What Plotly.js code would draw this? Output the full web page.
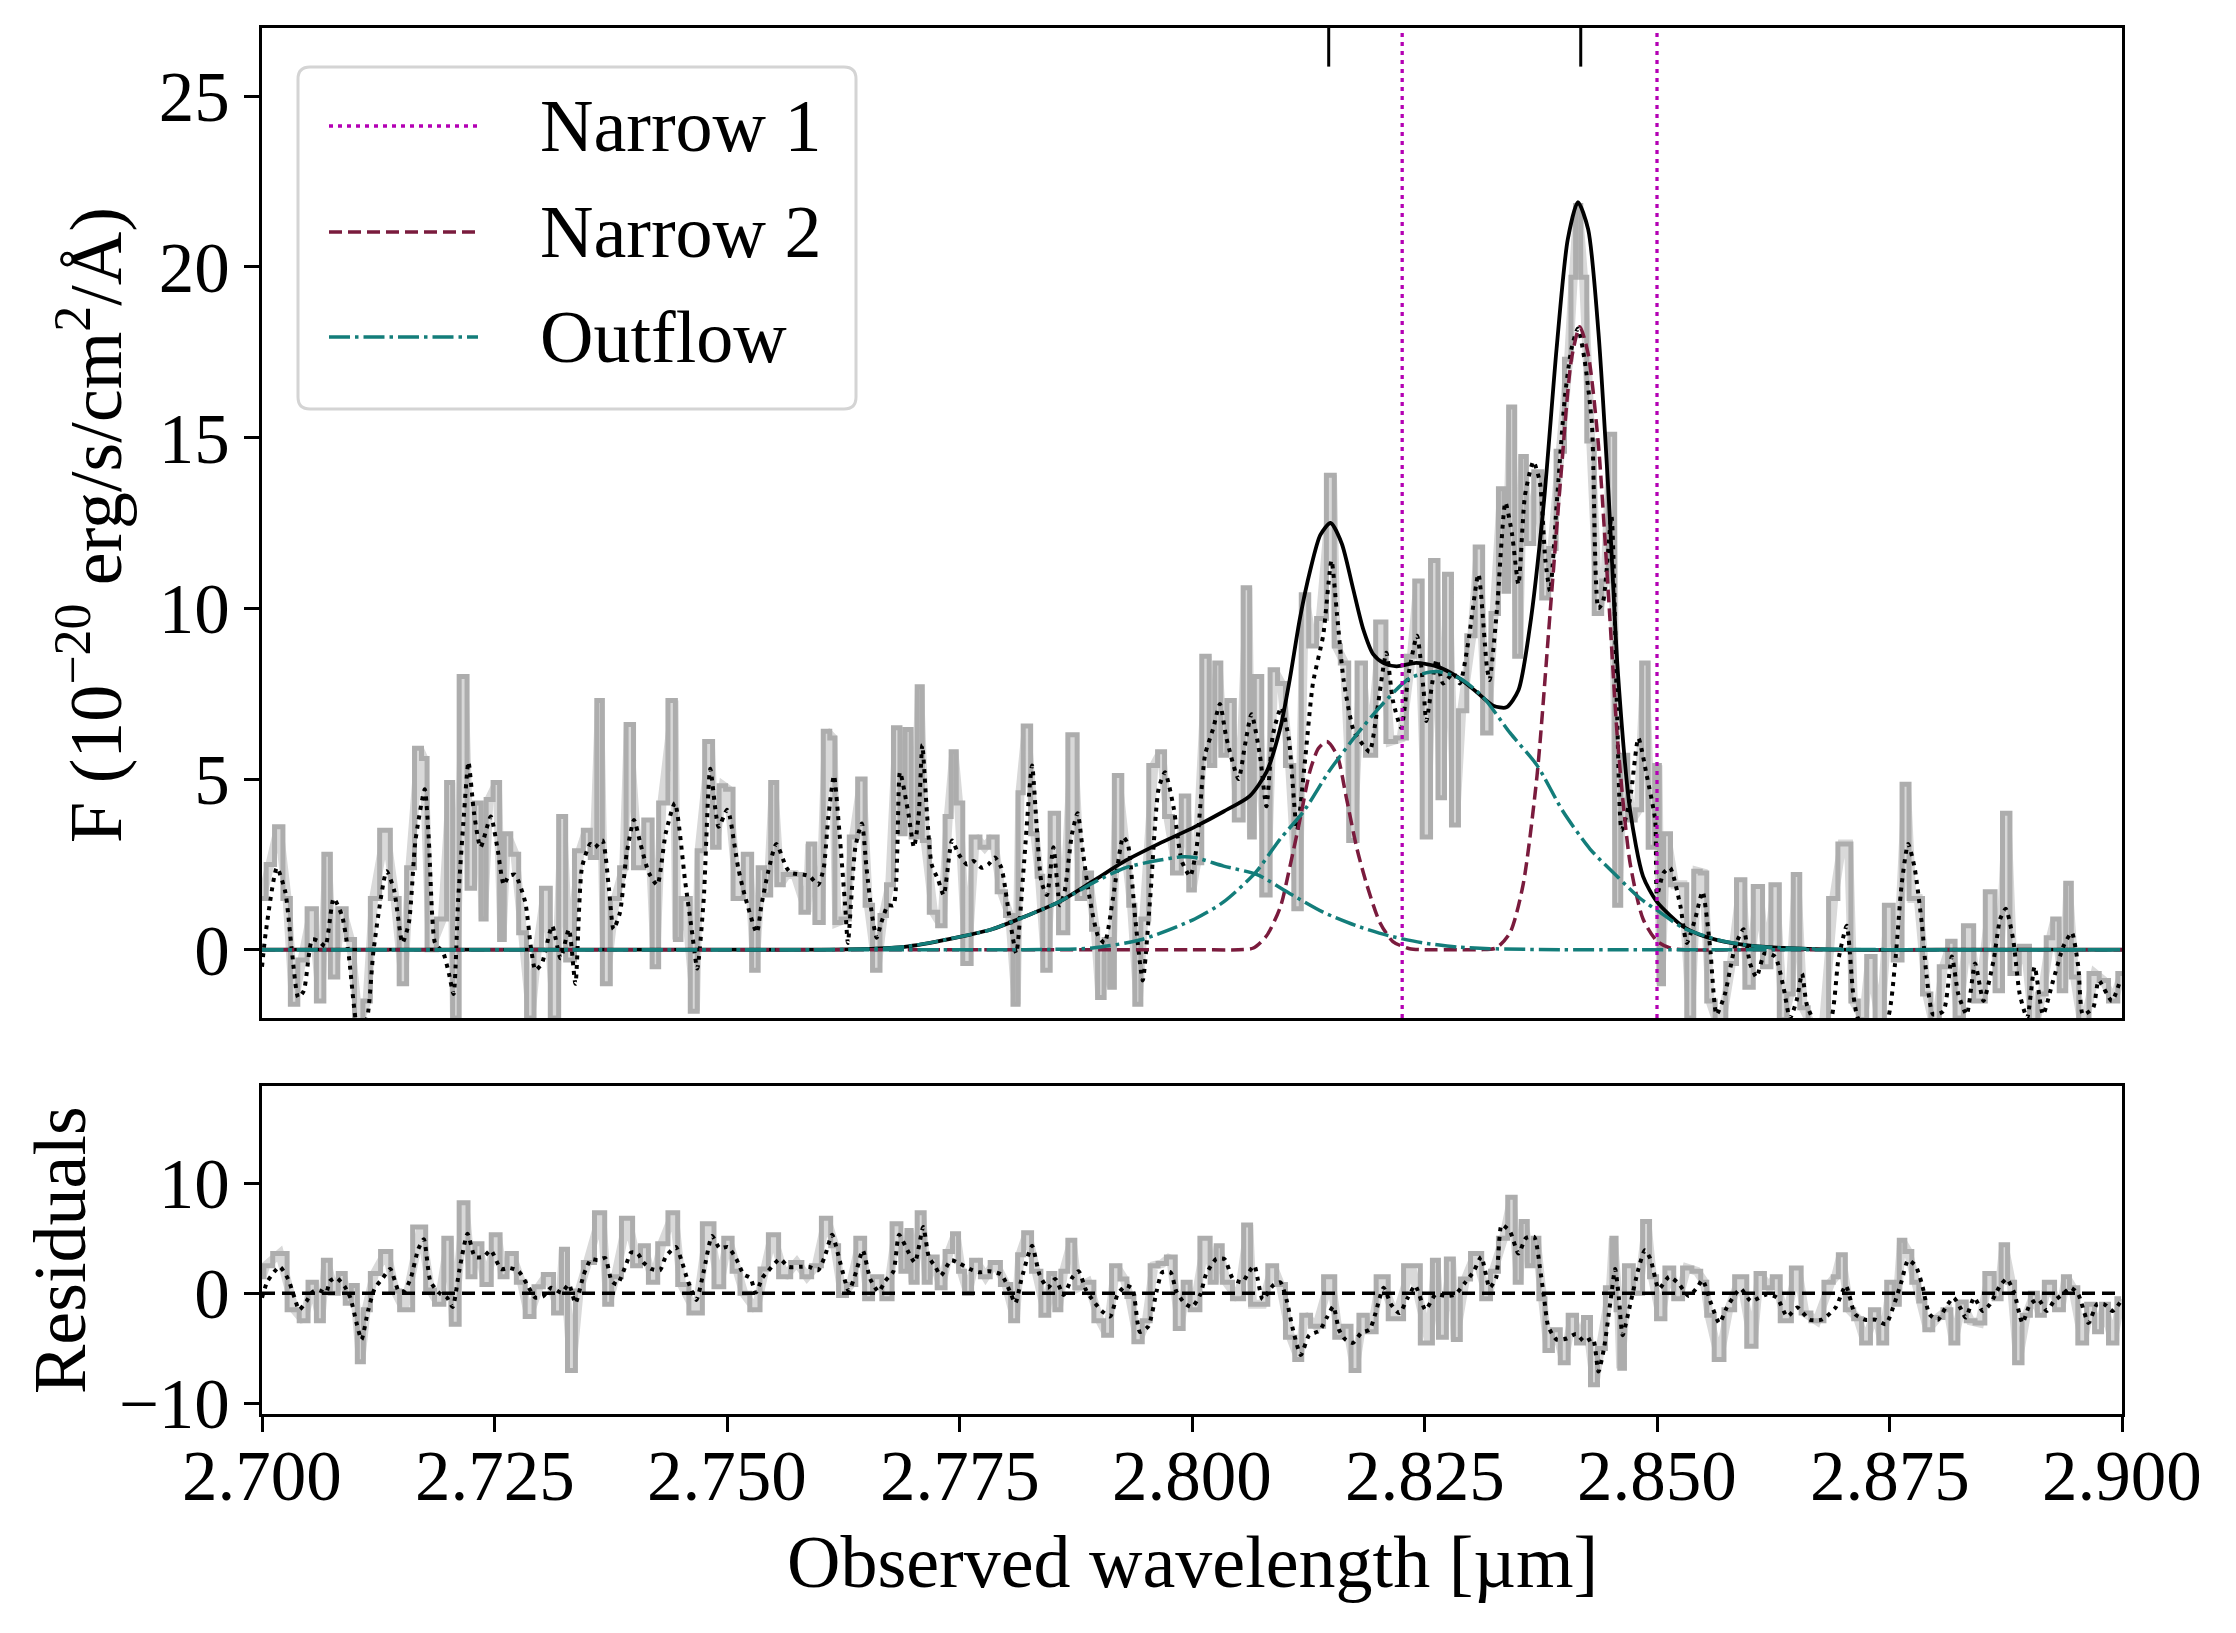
<!DOCTYPE html>
<html>
<head>
<meta charset="utf-8">
<script src="https://cdn.plot.ly/plotly-3.0.1.min.js"></script>
<style>html,body{margin:0;padding:0;background:#fff;}#plot{width:2236px;height:1633px;}</style>
</head>
<body>
<div id="plot"></div>
<script>
// ---------------- DATA ----------------
// observed spectrum (grey steps), [wavelength um, flux 1e-20]
const observedSpectrum = [
[2.7000,1.5],[2.7009,2.5],[2.7018,3.6],[2.7027,1.5],[2.7034,-1.6],[2.7043,-0.3],[2.7054,1.2],[2.7063,-1.5],[2.7070,2.8],[2.7077,-0.8],[2.7086,1.2],[2.7095,0.3],[2.7104,-2.2],[2.7113,-1.5],[2.7120,1.5],[2.7133,3.5],[2.7143,1.5],[2.7152,-1.0],[2.7159,2.4],[2.7169,5.9],[2.7174,5.6],[2.7181,0.0],[2.7194,0.9],[2.7203,4.9],[2.7207,-2.0],[2.7217,8.0],[2.7224,1.8],[2.7233,4.3],[2.7238,0.9],[2.7244,4.4],[2.7253,4.9],[2.7258,0.3],[2.7263,3.4],[2.7272,2.8],[2.7280,0.5],[2.7289,-2.0],[2.7296,0.0],[2.7305,1.8],[2.7315,-2.0],[2.7323,3.9],[2.7330,-0.3],[2.7342,2.9],[2.7349,3.5],[2.7357,2.7],[2.7363,7.3],[2.7369,-1.0],[2.7380,1.5],[2.7389,2.4],[2.7394,6.6],[2.7405,2.4],[2.7416,3.8],[2.7423,-0.5],[2.7430,4.3],[2.7443,7.3],[2.7446,0.3],[2.7455,1.5],[2.7466,-1.8],[2.7470,2.9],[2.7482,6.1],[2.7487,3.0],[2.7496,4.8],
[2.7501,4.7],[2.7512,1.5],[2.7523,2.8],[2.7530,-0.6],[2.7537,2.4],[2.7544,1.6],[2.7550,4.9],[2.7557,1.9],[2.7564,2.2],[2.7573,2.2],[2.7586,1.1],[2.7589,3.1],[2.7600,0.8],[2.7607,6.4],[2.7614,6.2],[2.7618,0.8],[2.7627,0.9],[2.7636,3.3],[2.7645,5.0],[2.7652,1.3],[2.7661,-0.6],[2.7668,1.0],[2.7675,1.9],[2.7683,6.5],[2.7689,3.4],[2.7694,6.45],[2.7702,3.3],[2.7707,7.7],[2.7713,3.2],[2.7722,1.1],[2.7731,0.7],[2.7738,3.9],[2.7744,5.8],[2.7749,4.3],[2.7758,-0.4],[2.7767,3.3],[2.7777,3.0],[2.7786,3.3],[2.7795,1.7],[2.7804,1.0],[2.7811,-1.6],[2.7815,4.6],[2.7822,6.55],[2.7831,3.4],[2.7836,2.15],[2.7843,-0.6],[2.7852,4.0],[2.7861,0.5],[2.7872,6.3],[2.7881,1.5],[2.7888,2.25],[2.7896,0.6],[2.7901,-1.4],[2.7910,0.3],[2.7913,-1.1],[2.7920,5.1],[2.7929,2.6],[2.7935,1.3],[2.7942,-1.6],[2.7948,0.9],[2.7959,5.4],[2.7967,5.8],[2.7974,3.9],[2.7984,2.25],[2.7993,4.5],
[2.8000,1.75],[2.8005,2.55],[2.8016,8.6],[2.8021,5.4],[2.8028,8.4],[2.8034,5.7],[2.8041,7.3],[2.8050,3.8],[2.8060,10.6],[2.8064,3.3],[2.8070,8.0],[2.8080,1.6],[2.8088,8.2],[2.8096,7.8],[2.8105,5.4],[2.8114,1.2],[2.8121,10.4],[2.8130,8.9],[2.8138,9.7],[2.8151,13.9],[2.8155,8.9],[2.8164,8.4],[2.8173,3.2],[2.8182,8.4],[2.8191,5.7],[2.8204,9.6],[2.8213,6.1],[2.8225,6.2],[2.8236,8.6],[2.8243,10.8],[2.8252,3.3],[2.8261,11.4],[2.8268,4.45],[2.8275,11.0],[2.8283,3.65],[2.8290,7.0],[2.8301,9.2],[2.8308,11.8],[2.8317,6.35],[2.8326,9.85],[2.8333,13.5],[2.8338,10.5],[2.8343,15.9],[2.8351,8.6],[2.8356,14.45],[2.8363,11.9],[2.8372,14.0],[2.8380,10.3],[2.8387,11.75],[2.8396,14.6],[2.8405,17.3],[2.8410,19.7],[2.8415,21.8],[2.8421,19.7],[2.8428,14.9],[2.8437,9.85],[2.8444,10.8],[2.8451,15.1],[2.8458,1.3],[2.8464,5.7],[2.8473,3.8],[2.8480,4.1],[2.8487,8.4],[2.8494,3.0],[2.8501,5.4],[2.8504,-1.0],
[2.8510,3.4],[2.8519,1.9],[2.8528,1.9],[2.8536,-2.0],[2.8543,2.3],[2.8550,2.25],[2.8557,-1.5],[2.8568,-2.4],[2.8580,-0.4],[2.8591,2.05],[2.8598,-1.1],[2.8609,1.85],[2.8618,-0.5],[2.8627,1.9],[2.8636,-2.05],[2.8643,-1.3],[2.8650,2.2],[2.8657,-1.7],[2.8668,-2.3],[2.8679,-2.2],[2.8690,1.5],[2.8699,3.1],[2.8706,3.1],[2.8711,-1.5],[2.8722,-2.05],[2.8729,-0.2],[2.8740,-2.3],[2.8749,1.3],[2.8759,-0.3],[2.8768,4.85],[2.8774,1.5],[2.8781,1.5],[2.8790,-1.3],[2.8799,-2.4],[2.8808,-0.5],[2.8817,0.25],[2.8824,-2.0],[2.8835,0.7],[2.8846,-1.5],[2.8860,1.7],[2.8867,-1.2],[2.8876,4.0],[2.8883,-0.7],[2.8896,0.1],[2.8905,-2.4],[2.8914,-1.3],[2.8923,0.35],[2.8928,0.9],[2.8937,-1.2],[2.8942,1.95],[2.8949,-0.8],[2.8958,-2.4],[2.8971,-0.7],[2.8980,-0.9],[2.8991,-1.5],[2.9000,-0.7]
];

// smoothed spectrum (black dotted)
const smoothedSpectrum = [
[2.7000,-0.5],[2.7004,0.5],[2.7016,2.4],[2.7025,1.7],[2.7032,0.0],[2.7039,-1.4],[2.7045,-1.2],[2.7054,0.3],[2.7061,0.25],[2.7068,0.1],[2.7077,1.5],[2.7086,1.0],[2.7093,-0.1],[2.7104,-2.5],[2.7113,-2.0],[2.7120,0.0],[2.7134,2.3],[2.7142,1.75],[2.7151,0.2],[2.7158,0.8],[2.7165,3.2],[2.7175,4.7],[2.7179,3.4],[2.7183,1.0],[2.7186,0.2],[2.7195,-0.1],[2.7201,-0.7],[2.7206,-1.3],[2.7211,1.5],[2.7217,3.9],[2.7222,5.5],[2.7228,4.0],[2.7235,3.0],[2.7246,3.9],[2.7253,3.0],[2.7260,1.9],[2.7265,2.15],[2.7272,2.2],[2.7283,1.4],[2.7289,0.1],[2.7294,-0.6],[2.7301,-0.4],[2.7312,0.7],[2.7321,-0.25],[2.7330,0.6],[2.7337,-1.0],[2.7344,2.4],[2.7353,3.1],[2.7358,3.0],[2.7366,3.2],[2.7373,1.8],[2.7378,0.6],[2.7385,1.1],[2.7392,2.8],[2.7400,3.8],[2.7407,3.1],[2.7416,2.25],[2.7425,1.9],[2.7434,3.4],[2.7444,4.3],[2.7455,2.0],[2.7462,0.6],[2.7468,-0.55],[2.7475,1.5],[2.7482,5.3],[2.7491,3.6],[2.7500,4.1],
[2.7503,3.9],[2.7512,2.4],[2.7519,1.6],[2.7532,0.5],[2.7537,1.3],[2.7544,2.25],[2.7553,3.1],[2.7564,2.4],[2.7569,2.25],[2.7582,2.2],[2.7589,2.15],[2.7598,1.9],[2.7604,2.4],[2.7609,3.9],[2.7615,5.1],[2.7621,3.4],[2.7627,1.3],[2.7630,0.2],[2.7638,3.0],[2.7645,3.7],[2.7650,2.4],[2.7656,1.0],[2.7661,0.35],[2.7666,0.8],[2.7673,1.3],[2.7679,1.3],[2.7686,5.2],[2.7695,4.0],[2.7701,3.0],[2.7706,3.9],[2.7710,6.0],[2.7715,4.0],[2.7720,2.5],[2.7727,2.05],[2.7733,1.6],[2.7742,3.2],[2.7749,2.8],[2.7758,2.5],[2.7765,2.6],[2.7774,2.4],[2.7781,2.5],[2.7788,2.7],[2.7795,2.4],[2.7804,0.9],[2.7811,-0.1],[2.7819,2.4],[2.7828,5.4],[2.7833,3.6],[2.7838,2.0],[2.7844,1.6],[2.7851,3.0],[2.7858,1.3],[2.7863,1.7],[2.7871,3.4],[2.7877,4.0],[2.7883,2.8],[2.7890,1.5],[2.7899,0.4],[2.7906,0.2],[2.7915,1.5],[2.7926,3.3],[2.7931,3.1],[2.7939,0.9],[2.7947,-0.9],[2.7955,1.5],[2.7964,4.7],[2.7971,5.2],[2.7980,4.2],[2.7989,2.6],[2.7998,2.15],
[2.8005,3.0],[2.8014,5.7],[2.8023,6.5],[2.8030,7.2],[2.8037,6.2],[2.8050,5.0],[2.8057,6.0],[2.8064,6.9],[2.8073,5.7],[2.8080,4.2],[2.8087,6.3],[2.8096,7.1],[2.8104,6.2],[2.8113,3.5],[2.8121,5.4],[2.8130,7.8],[2.8141,9.2],[2.8150,11.4],[2.8156,9.8],[2.8163,7.9],[2.8174,6.4],[2.8184,6.0],[2.8191,5.8],[2.8199,7.0],[2.8209,8.7],[2.8216,7.3],[2.8225,6.5],[2.8233,8.1],[2.8242,9.2],[2.8249,7.6],[2.8252,6.7],[2.8263,8.5],[2.8270,7.8],[2.8281,8.1],[2.8288,7.8],[2.8297,9.0],[2.8308,11.0],[2.8317,8.3],[2.8320,7.9],[2.8328,10.0],[2.8337,13.1],[2.8344,12.2],[2.8351,10.7],[2.8358,13.3],[2.8367,14.3],[2.8374,13.7],[2.8380,11.4],[2.8385,10.5],[2.8392,13.0],[2.8401,16.2],[2.8408,17.6],[2.8415,18.2],[2.8422,17.3],[2.8430,15.4],[2.8437,10.0],[2.8442,10.2],[2.8451,12.7],[2.8457,7.0],[2.8462,3.5],[2.8471,4.4],[2.8480,6.2],[2.8489,5.1],[2.8498,3.8],
[2.8500,1.6],[2.8507,2.25],[2.8514,2.4],[2.8525,1.3],[2.8532,0.2],[2.8541,0.9],[2.8549,1.7],[2.8557,0.1],[2.8564,-1.9],[2.8573,-1.3],[2.8584,0.1],[2.8593,0.6],[2.8600,-0.4],[2.8607,-0.8],[2.8616,-0.1],[2.8627,-0.2],[2.8636,-1.1],[2.8643,-2.0],[2.8650,-1.5],[2.8656,-0.7],[2.8661,-1.6],[2.8672,-2.2],[2.8686,-2.1],[2.8695,-0.3],[2.8704,0.7],[2.8711,-1.3],[2.8716,-2.0],[2.8729,-2.4],[2.8747,-2.1],[2.8756,-0.4],[2.8763,1.9],[2.8770,3.1],[2.8777,2.4],[2.8785,0.7],[2.8790,-0.8],[2.8797,-1.9],[2.8808,-1.8],[2.8817,-0.2],[2.8824,-1.3],[2.8833,-1.9],[2.8842,-0.4],[2.8851,-1.5],[2.8862,-0.3],[2.8869,0.9],[2.8875,1.2],[2.8883,0.3],[2.8890,-1.3],[2.8898,-2.0],[2.8906,-0.5],[2.8915,-1.9],[2.8926,-0.9],[2.8937,0.1],[2.8946,0.5],[2.8953,-0.5],[2.8958,-1.9],[2.8969,-1.7],[2.8975,-0.9],[2.8989,-1.5],[2.8998,-0.9]
];

// best-fit total model (black solid)
const totalModel = [
[2.7000,0],[2.7500,0],[2.7600,0],[2.7659,0.03],[2.7695,0.1],[2.7749,0.37],[2.7785,0.6],[2.7821,0.98],[2.7857,1.4],[2.7893,2.0],[2.7928,2.6],[2.7964,3.1],[2.8003,3.6],[2.8034,4.05],[2.8062,4.5],[2.8080,5.2],[2.8095,6.5],[2.8105,7.9],[2.8116,9.7],[2.8127,11.1],[2.8138,12.15],[2.8149,12.5],[2.8161,11.9],[2.8173,10.6],[2.8184,9.4],[2.8195,8.65],[2.8206,8.4],[2.8220,8.3],[2.8241,8.4],[2.8263,8.3],[2.8285,8.0],[2.8306,7.55],[2.8324,7.15],[2.8338,7.1],[2.8351,7.6],[2.8363,9.4],[2.8378,13.0],[2.8392,17.6],[2.8404,20.8],[2.8415,21.9],[2.8426,21.1],[2.8437,18.1],[2.8448,13.3],[2.8458,8.1],[2.8471,4.1],[2.8485,2.15],[2.8500,1.4],[2.8528,0.68],[2.8546,0.44],[2.8564,0.29],[2.8600,0.12],[2.8636,0.05],[2.8690,0],[2.8800,0],[2.9000,0]
];

// outflow components (teal dash-dot)
const outflowBlue = [
[2.7000,0],[2.7500,0],[2.7600,0],[2.7659,0.03],[2.7695,0.1],[2.7749,0.37],[2.7785,0.6],[2.7821,0.98],[2.7857,1.4],[2.7893,1.95],[2.7928,2.4],[2.7964,2.62],[2.7989,2.72],[2.8003,2.7],[2.8034,2.45],[2.8070,2.2],[2.8105,1.65],[2.8141,1.1],[2.8177,0.7],[2.8213,0.4],[2.8249,0.2],[2.8285,0.08],[2.8320,0.03],[2.8400,0],[2.8600,0],[2.9000,0]
];
const outflowRed = [
[2.7000,0],[2.7600,0],[2.7800,0],[2.7850,0.01],[2.7893,0.05],[2.7946,0.3],[2.8003,0.9],[2.8034,1.4],[2.8068,2.25],[2.8095,3.25],[2.8120,4.05],[2.8148,5.25],[2.8177,6.3],[2.8205,7.2],[2.8234,7.95],[2.8263,8.15],[2.8288,7.95],[2.8313,7.4],[2.8342,6.35],[2.8371,5.4],[2.8399,4.05],[2.8428,2.95],[2.8457,2.15],[2.8482,1.5],[2.8503,1.1],[2.8528,0.64],[2.8564,0.3],[2.8600,0.12],[2.8636,0.05],[2.8700,0.01],[2.8800,0],[2.9000,0]
];

// narrow component 2 (maroon dashed)
const narrow2Model = [
[2.7000,0],[2.7600,0],[2.7900,0],[2.8000,0],[2.8050,0],[2.8066,0.05],[2.8080,0.4],[2.8095,1.25],[2.8105,2.4],[2.8116,3.8],[2.8127,5.25],[2.8136,5.9],[2.8145,6.1],[2.8156,5.7],[2.8166,4.45],[2.8177,3.0],[2.8188,1.9],[2.8202,0.8],[2.8216,0.24],[2.8234,0.03],[2.8250,0],[2.8290,0],[2.8310,0],[2.8327,0.05],[2.8342,0.5],[2.8356,1.9],[2.8371,5.1],[2.8385,9.85],[2.8397,14.0],[2.8408,17.3],[2.8417,18.25],[2.8426,17.45],[2.8437,14.8],[2.8448,10.3],[2.8458,6.0],[2.8471,2.55],[2.8485,0.9],[2.8500,0.25],[2.8514,0.05],[2.8530,0],[2.8600,0],[2.8800,0],[2.9000,0]
];

// narrow component 1 positions (magenta dotted verticals) and line markers at top
const narrow1Positions = [2.8226, 2.8500];
const lineMarkers = [2.8147, 2.8418];

// residuals (grey) and smoothed residuals (black dotted)
const residuals = [
[2.7000,1.5],[2.7004,2.5],[2.7019,3.6],[2.7035,-1.5],[2.7045,-2.5],[2.7054,1.0],[2.7063,-2.5],[2.7069,3.0],[2.7078,0.0],[2.7086,1.8],[2.7093,-0.9],[2.7099,0.7],[2.7106,-6.2],[2.7112,-1.5],[2.7121,1.8],[2.7134,3.8],[2.7143,0.2],[2.7153,-1.5],[2.7171,6.0],[2.7181,0.3],[2.7190,-1.0],[2.7201,5.0],[2.7206,-2.8],[2.7218,8.2],[2.7225,1.5],[2.7233,4.5],[2.7240,0.8],[2.7253,5.3],[2.7259,1.5],[2.7268,3.6],[2.7279,1.0],[2.7287,-2.1],[2.7298,0.6],[2.7307,1.7],[2.7320,-1.8],[2.7324,4.0],[2.7333,-7.0],[2.7341,0.2],[2.7350,2.8],[2.7365,7.3],[2.7372,-1.0],[2.7380,1.5],[2.7393,6.8],[2.7404,2.5],[2.7410,4.3],[2.7421,1.0],[2.7430,4.5],[2.7443,7.3],[2.7451,0.8],[2.7467,-1.8],[2.7480,6.3],[2.7492,0.6],[2.7501,5.0],[2.7510,2.0],[2.7518,0.0],[2.7531,-1.5],[2.7540,2.2],[2.7549,5.3],[2.7562,1.5],[2.7575,2.8],[2.7586,1.5],[2.7596,2.5],[2.7607,6.8],[2.7616,4.3],[2.7624,-0.2],[2.7633,0.8],[2.7644,5.0],[2.7652,-0.5],[2.7661,1.5],[2.7672,-0.5],
[2.7683,6.3],[2.7691,2.0],[2.7696,5.7],[2.7700,1.0],[2.7709,7.3],[2.7715,1.0],[2.7722,3.3],[2.7730,0.5],[2.7739,3.8],[2.7746,5.4],[2.7752,2.0],[2.7759,0.0],[2.7767,3.0],[2.7778,1.5],[2.7788,2.8],[2.7800,0.8],[2.7810,-2.5],[2.7815,3.5],[2.7823,5.5],[2.7832,2.0],[2.7843,-2.0],[2.7849,1.8],[2.7856,-1.5],[2.7862,2.0],[2.7871,4.8],[2.7877,0.5],[2.7888,1.0],[2.7901,-2.5],[2.7909,-3.8],[2.7918,2.5],[2.7927,1.3],[2.7933,-0.3],[2.7942,-4.4],[2.7951,-2.5],[2.7959,2.5],[2.7968,2.7],[2.7977,3.3],[2.7987,-3.2],[2.7994,1.0],[2.8002,-1.5],[2.8015,5.0],[2.8024,1.0],[2.8028,4.3],[2.8037,1.0],[2.8050,-0.5],[2.8061,6.2],[2.8065,-1.0],[2.8076,-1.0],[2.8087,2.5],[2.8095,0.8],[2.8106,-4.0],[2.8115,-6.0],[2.8121,-2.0],[2.8134,-3.0],[2.8149,1.5],[2.8158,-4.0],[2.8167,-3.0],[2.8175,-7.0],[2.8184,-2.0],[2.8193,-3.5],[2.8203,1.5],[2.8219,-2.3],[2.8236,2.5],[2.8255,-4.5],[2.8262,3.0],[2.8268,-4.0],[2.8279,3.1],[2.8283,-4.2],[2.8294,1.3],[2.8305,3.6],[2.8318,-0.5],[2.8324,2.0],[2.8335,5.0],[2.8344,8.7],
[2.8351,1.0],[2.8357,6.5],[2.8364,2.5],[2.8370,5.0],[2.8376,-0.5],[2.8383,-5.2],[2.8392,-3.3],[2.8400,-6.3],[2.8409,-2.0],[2.8418,-4.5],[2.8424,-2.2],[2.8433,-8.3],[2.8439,-5.0],[2.8450,0.5],[2.8453,5.0],[2.8459,-1.5],[2.8461,-6.8],[2.8469,2.5],[2.8480,0.0],[2.8489,6.5],[2.8495,1.5],[2.8504,-2.3],[2.8513,2.3],[2.8523,-0.5],[2.8532,2.3],[2.8543,2.0],[2.8551,1.0],[2.8556,-2.0],[2.8567,-6.0],[2.8577,-1.5],[2.8590,1.5],[2.8603,-4.8],[2.8610,1.8],[2.8621,0.5],[2.8627,1.5],[2.8638,-2.5],[2.8651,2.3],[2.8659,-1.8],[2.8672,-2.5],[2.8687,1.0],[2.8692,1.5],[2.8698,3.5],[2.8707,-1.5],[2.8716,-2.3],[2.8724,-4.5],[2.8735,-1.5],[2.8742,-4.5],[2.8752,1.0],[2.8758,-1.0],[2.8763,4.8],[2.8770,3.8],[2.8778,1.0],[2.8785,-0.7],[2.8791,-3.3],[2.8802,-2.2],[2.8813,-1.5],[2.8819,-4.5],[2.8828,-0.8],[2.8837,-2.5],[2.8847,-2.7],[2.8858,1.8],[2.8867,-0.5],[2.8873,4.4],[2.8881,1.0],[2.8888,-6.3],[2.8897,-2.0],[2.8906,0.0],[2.8912,-2.0],[2.8921,1.0],[2.8934,-1.5],[2.8940,1.5],[2.8947,0.5],[2.8958,-4.5],[2.8966,-1.0],[2.8975,-3.5],[2.8981,-1.0],[2.8990,-4.5],[2.8999,-0.5]
];
const smoothedResiduals = [
[2.7000,-0.4],[2.7006,1.1],[2.7019,2.4],[2.7028,1.3],[2.7035,-0.4],[2.7040,-1.5],[2.7048,-0.7],[2.7054,0.1],[2.7060,0.3],[2.7069,0.06],[2.7073,1.1],[2.7080,1.4],[2.7089,0.6],[2.7095,-0.4],[2.7102,-2.8],[2.7107,-4.2],[2.7114,-1.6],[2.7121,0.4],[2.7130,1.4],[2.7138,2.2],[2.7147,0.2],[2.7153,0.2],[2.7160,1.4],[2.7168,4.0],[2.7174,4.9],[2.7181,1.1],[2.7190,0.06],[2.7199,-0.4],[2.7205,-1.25],[2.7212,2.0],[2.7221,5.4],[2.7229,3.3],[2.7238,3.3],[2.7246,3.9],[2.7257,2.2],[2.7266,2.3],[2.7276,2.0],[2.7285,0.8],[2.7294,-0.4],[2.7302,-0.3],[2.7311,0.5],[2.7322,0.06],[2.7330,0.8],[2.7337,-0.9],[2.7346,1.7],[2.7354,3.1],[2.7361,3.0],[2.7369,3.2],[2.7376,1.1],[2.7382,0.8],[2.7391,2.5],[2.7397,3.7],[2.7404,3.6],[2.7410,2.8],[2.7419,2.2],[2.7428,2.1],[2.7434,3.3],[2.7445,4.2],[2.7451,3.0],[2.7458,1.1],[2.7467,-0.6],[2.7475,2.0],[2.7484,5.2],[2.7492,4.1],[2.7501,4.2],[2.7510,3.1],[2.7518,1.7],[2.7525,1.4],[2.7531,0.06],[2.7538,1.4],[2.7544,2.0],[2.7557,3.1],[2.7566,2.4],[2.7579,2.4],[2.7588,2.4],[2.7598,2.1],[2.7605,3.3],[2.7613,5.3],[2.7622,2.7],[2.7631,0.2],[2.7639,2.0],[2.7646,3.9],[2.7654,1.3],[2.7663,0.15],[2.7670,1.1],
[2.7679,2.0],[2.7685,5.3],[2.7694,3.9],[2.7702,2.8],[2.7711,6.0],[2.7717,3.3],[2.7724,2.4],[2.7730,1.6],[2.7741,3.0],[2.7750,2.7],[2.7761,2.2],[2.7771,1.9],[2.7782,2.0],[2.7795,1.7],[2.7804,0.2],[2.7810,-0.9],[2.7817,1.4],[2.7828,4.3],[2.7836,1.7],[2.7845,0.5],[2.7853,1.3],[2.7862,-0.15],[2.7871,1.4],[2.7878,2.0],[2.7886,0.3],[2.7894,-0.7],[2.7903,-1.6],[2.7912,-2.1],[2.7920,-0.1],[2.7929,0.7],[2.7936,0.4],[2.7944,-3.5],[2.7953,-3.0],[2.7962,0.2],[2.7968,1.9],[2.7977,1.9],[2.7983,0.2],[2.7992,-0.9],[2.8000,-1.25],[2.8009,-0.1],[2.8015,1.7],[2.8026,3.1],[2.8035,3.1],[2.8044,1.3],[2.8054,1.0],[2.8061,1.9],[2.8067,2.5],[2.8076,-0.55],[2.8087,0.7],[2.8095,1.0],[2.8102,-0.7],[2.8108,-3.1],[2.8117,-5.6],[2.8126,-3.8],[2.8137,-3.4],[2.8145,-2.2],[2.8152,-1.2],[2.8158,-3.3],[2.8165,-4.2],[2.8173,-4.5],[2.8182,-3.6],[2.8191,-3.3],[2.8197,-1.9],[2.8206,0.5],[2.8214,-1.0],[2.8223,-1.8],[2.8232,-0.4],[2.8240,0.7],[2.8251,-1.5],[2.8262,-0.1],[2.8273,-0.25],[2.8283,-0.1],[2.8294,1.0],[2.8303,2.0],[2.8311,3.3],[2.8320,0.5],[2.8327,1.4],[2.8333,6.2],[2.8342,5.6],
[2.8351,3.6],[2.8359,5.0],[2.8368,5.1],[2.8374,2.4],[2.8379,-0.7],[2.8383,-3.0],[2.8392,-4.2],[2.8403,-4.1],[2.8413,-3.7],[2.8422,-4.4],[2.8431,-4.1],[2.8437,-7.1],[2.8443,-5.0],[2.8450,-0.7],[2.8455,2.2],[2.8459,-0.4],[2.8463,-3.8],[2.8472,-0.7],[2.8480,2.2],[2.8487,3.9],[2.8493,3.1],[2.8502,0.4],[2.8513,1.5],[2.8523,0.9],[2.8534,-0.25],[2.8543,0.5],[2.8549,1.2],[2.8558,-0.9],[2.8567,-2.7],[2.8575,-1.3],[2.8584,-0.1],[2.8590,0.4],[2.8601,-0.7],[2.8618,-0.1],[2.8629,-0.4],[2.8640,-2.1],[2.8651,-1.3],[2.8664,-2.4],[2.8677,-2.4],[2.8692,-1.3],[2.8703,0.7],[2.8713,-1.9],[2.8724,-2.4],[2.8735,-2.4],[2.8746,-2.8],[2.8755,-1.0],[2.8763,1.1],[2.8770,3.0],[2.8778,2.5],[2.8785,0.8],[2.8793,-1.9],[2.8802,-2.4],[2.8811,-1.2],[2.8819,-0.4],[2.8826,-1.3],[2.8832,-2.2],[2.8841,-0.4],[2.8850,-1.6],[2.8858,-1.0],[2.8869,0.7],[2.8876,1.3],[2.8884,0.06],[2.8893,-2.7],[2.8901,-1.0],[2.8910,-0.55],[2.8919,-1.6],[2.8927,-0.7],[2.8936,-0.1],[2.8945,0.5],[2.8953,-0.1],[2.8964,-2.7],[2.8973,-1.0],[2.8981,-1.0],[2.8990,-1.6],[2.8999,-0.7]
];

// axis ticks and labels
const wavelengthRange = [2.7, 2.9];
const fluxRange = [-2, 27];
const residualRange = [-10.95, 18.8];
const wavelengthTicks = [2.700, 2.725, 2.750, 2.775, 2.800, 2.825, 2.850, 2.875, 2.900];
const fluxTicks = [0, 5, 10, 15, 20, 25];
const residualTicks = [-10, 0, 10];
const legendLabels = ['Narrow 1', 'Narrow 2', 'Outflow'];

// ---------------- STYLE ----------------
const W = 2236, H = 1633;
const FONT = 'Liberation Serif, Times New Roman, serif';
const C_MAG = '#b400b4', C_MAR = '#7a1b3d', C_TEAL = '#137d7a';
const DOT = '4px,5.5px', DASH = '13px,6px', DASHDOT = '21px,5px,3.5px,5px', MDOT = '4px,5px';
const px = v => v / W, py = v => 1 - v / H;

const xs = a => a.map(p => p[0]);
const ys = a => a.map(p => p[1]);

const traces = [
  {x: xs(observedSpectrum), y: ys(observedSpectrum), xaxis:'x', yaxis:'y', mode:'lines', line:{color:'#d9d9d9', width:9, shape:'linear'}, hoverinfo:'skip'},
  {x: xs(observedSpectrum), y: ys(observedSpectrum), xaxis:'x', yaxis:'y', mode:'lines', line:{color:'#adadad', width:5, shape:'hvh'}, hoverinfo:'skip'},
  {x: xs(smoothedSpectrum), y: ys(smoothedSpectrum), xaxis:'x', yaxis:'y', mode:'lines', line:{color:'#000', width:4, dash:DOT, shape:'spline', smoothing:0.6}},
  {x: xs(totalModel), y: ys(totalModel), xaxis:'x', yaxis:'y', mode:'lines', line:{color:'#000', width:3.8, shape:'spline', smoothing:0.7}},
  {x: xs(narrow2Model), y: ys(narrow2Model), xaxis:'x', yaxis:'y', mode:'lines', line:{color:C_MAR, width:3.5, dash:DASH, shape:'spline', smoothing:0.7}},
  {x: xs(outflowBlue), y: ys(outflowBlue), xaxis:'x', yaxis:'y', mode:'lines', line:{color:C_TEAL, width:3.5, dash:DASHDOT, shape:'spline', smoothing:0.7}},
  {x: xs(outflowRed), y: ys(outflowRed), xaxis:'x', yaxis:'y', mode:'lines', line:{color:C_TEAL, width:3.5, dash:DASHDOT, shape:'spline', smoothing:0.7}},
  // residual panel
  {x: xs(residuals), y: ys(residuals), xaxis:'x2', yaxis:'y2', mode:'lines', line:{color:'#d9d9d9', width:9, shape:'linear'}},
  {x: xs(residuals), y: ys(residuals), xaxis:'x2', yaxis:'y2', mode:'lines', line:{color:'#adadad', width:5, shape:'hvh'}},
  {x: xs(smoothedResiduals), y: ys(smoothedResiduals), xaxis:'x2', yaxis:'y2', mode:'lines', line:{color:'#000', width:4, dash:DOT, shape:'spline', smoothing:0.6}}
];

const shapes = [];
// narrow 1 vertical dotted lines
narrow1Positions.forEach(v => shapes.push({type:'line', xref:'x', yref:'y domain', x0:v, x1:v, y0:0, y1:1, line:{color:C_MAG, width:3.3, dash:MDOT}, layer:'above'}));
// line markers at top of the main panel
lineMarkers.forEach(v => shapes.push({type:'line', xref:'x', yref:'y domain', x0:v, x1:v, y0:0.961, y1:1, line:{color:'#000', width:3}, layer:'above'}));
// zero line on residuals
shapes.push({type:'line', xref:'x2 domain', yref:'y2', x0:0, x1:1, y0:0, y1:0, line:{color:'#000', width:3.3, dash:'13px,7px'}, layer:'above'});

// legend frame (rounded)
const lx0 = px(298), lx1 = px(856), ly0 = py(67), ly1 = py(409), rx = px(12), ry = 12 / H;
shapes.push({type:'path', xref:'paper', yref:'paper', layer:'above',
  path:`M ${lx0+rx},${ly0} L ${lx1-rx},${ly0} Q ${lx1},${ly0} ${lx1},${ly0-ry} L ${lx1},${ly1+ry} Q ${lx1},${ly1} ${lx1-rx},${ly1} L ${lx0+rx},${ly1} Q ${lx0},${ly1} ${lx0},${ly1+ry} L ${lx0},${ly0-ry} Q ${lx0},${ly0} ${lx0+rx},${ly0} Z`,
  fillcolor:'rgba(255,255,255,0.85)', line:{color:'#d4d4d4', width:3}});
const legendStyles = [
  {color:C_MAG, dash:MDOT, width:3.3},
  {color:C_MAR, dash:DASH, width:3.5},
  {color:C_TEAL, dash:DASHDOT, width:3.5}
];
const legendRows = [126, 232, 337];
const annotations = [];
legendLabels.forEach((lab, i) => {
  shapes.push({type:'line', xref:'paper', yref:'paper', x0:px(329), x1:px(478), y0:py(legendRows[i]), y1:py(legendRows[i]), line:legendStyles[i], layer:'above'});
  annotations.push({xref:'paper', yref:'paper', x:px(538), y:py(legendRows[i]), xanchor:'left', yanchor:'middle', showarrow:false, text:lab, font:{family:FONT, size:74, color:'#000'}});
});

// x tick labels of the residual panel (placed from the tick values)
wavelengthTicks.forEach(v => annotations.push({xref:'x2', yref:'paper', x:v, y:py(1476), xanchor:'center', yanchor:'middle', showarrow:false,
  text:v.toFixed(3), font:{family:FONT, size:71, color:'#000'}}));

// axis titles
annotations.push({xref:'paper', yref:'paper', x:px(91), y:py(525), xanchor:'center', yanchor:'middle', textangle:-90, showarrow:false,
  text:'F (10<sup>−20</sup> erg/s/cm<sup>2</sup>/Å)', font:{family:FONT, size:74, color:'#000'}});
annotations.push({xref:'paper', yref:'paper', x:px(60), y:py(1250), xanchor:'center', yanchor:'middle', textangle:-90, showarrow:false,
  text:'Residuals', font:{family:FONT, size:74, color:'#000'}});
annotations.push({xref:'paper', yref:'paper', x:px(1192), y:py(1562), xanchor:'center', yanchor:'middle', showarrow:false,
  text:'Observed wavelength [µm]', font:{family:FONT, size:74, color:'#000'}});

const axBase = {showgrid:false, zeroline:false, showline:true, linecolor:'#000', linewidth:3, mirror:true,
  tickfont:{family:FONT, size:71, color:'#000'}, ticks:'outside', ticklen:15, tickwidth:3, tickcolor:'#000'};

const layout = {
  width: W, height: H,
  margin: {l:0, r:0, t:0, b:0},
  paper_bgcolor:'#fff', plot_bgcolor:'#fff',
  showlegend:false,
  font:{family:FONT, color:'#000'},
  xaxis: Object.assign({}, axBase, {domain:[px(262), px(2122)], range:wavelengthRange, anchor:'y', showticklabels:false, ticks:'', matches:'x2'}),
  yaxis: Object.assign({}, axBase, {domain:[py(1018), py(28)], range:fluxRange, anchor:'x', tickmode:'array', tickvals:fluxTicks}),
  xaxis2: Object.assign({}, axBase, {domain:[px(262), px(2122)], range:wavelengthRange, anchor:'y2', tickmode:'array', tickvals:wavelengthTicks, showticklabels:false}),
  yaxis2: Object.assign({}, axBase, {domain:[py(1414), py(1086)], range:residualRange, anchor:'x2', tickmode:'array', tickvals:residualTicks}),
  shapes: shapes,
  annotations: annotations
};

Plotly.newPlot('plot', traces, layout, {staticPlot:true, displayModeBar:false});
</script>
</body>
</html>
